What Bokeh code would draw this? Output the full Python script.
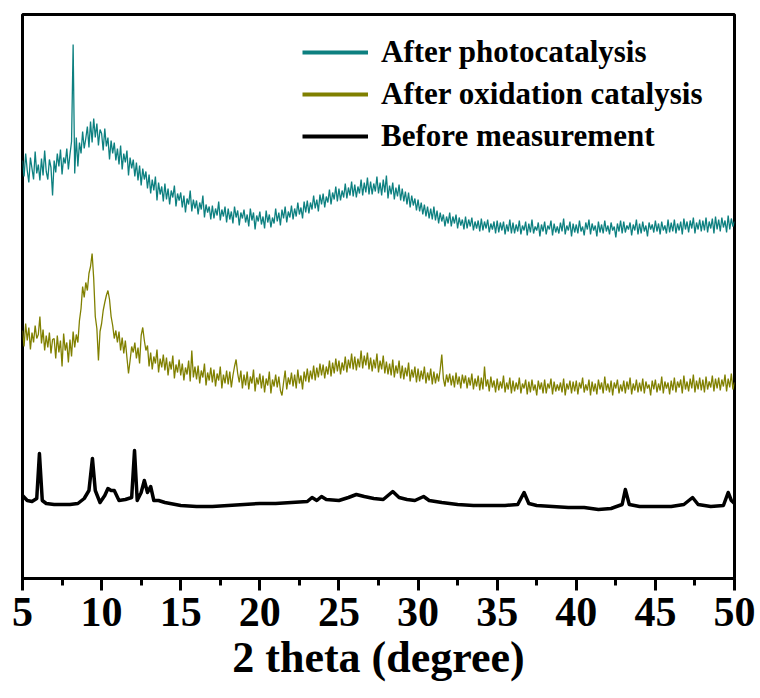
from bokeh.plotting import figure
from bokeh.models import SingleIntervalTicker, Legend, LegendItem, Range1d
from bokeh.embed import file_html
from bokeh.resources import INLINE
import numpy as np

# scan grid of the two noisy patterns (2 theta, degree)
scan_start = 5.0
scan_step = 0.1

# After photocatalysis (offset intensity, a.u.)
photo = [
    418, 402, 425, 408, 396, 421, 410, 399, 427, 405,
    414, 398, 420, 403, 428, 407, 399, 419, 411, 383,
    418, 406, 425, 412, 429, 404, 421, 415, 430, 409,
    424, 437, 534, 405, 441, 412, 436, 425, 447, 430,
    440, 452, 431, 457, 436, 460, 441, 455, 433, 449,
    445, 428, 450, 432, 441, 419, 438, 425, 436, 418,
    430, 414, 433, 409, 425, 416, 428, 403, 421, 410,
    419, 402, 416, 398, 413, 393, 410, 399, 407, 390,
    404, 385, 399, 388, 402, 378, 396, 384, 392, 377,
    395, 379, 390, 374, 388, 381, 393, 372, 385, 378,
    386, 371, 383, 366, 380, 374, 388, 367, 379, 370,
    378, 364, 376, 369, 383, 361, 374, 366, 372, 359,
    373, 360, 370, 363, 377, 358, 369, 362, 372, 356,
    370, 359, 367, 355, 372, 361, 368, 353, 366, 360,
    369, 356, 364, 352, 370, 358, 366, 349, 363, 357,
    367, 354, 362, 350, 368, 356, 364, 351, 361, 355,
    370, 357, 366, 353, 369, 360, 372, 356, 367, 361,
    373, 359, 370, 362, 376, 364, 371, 360, 377, 366,
    378, 365, 376, 369, 383, 370, 379, 367, 384, 374,
    385, 371, 382, 376, 389, 374, 386, 379, 392, 377,
    390, 378, 388, 381, 395, 380, 391, 383, 397, 382,
    394, 381, 392, 385, 399, 383, 396, 386, 401, 384,
    397, 384, 395, 387, 402, 385, 396, 383, 399, 386,
    403, 380, 393, 384, 396, 379, 391, 382, 394, 378,
    390, 377, 387, 374, 386, 371, 383, 373, 380, 368,
    379, 367, 376, 364, 374, 362, 372, 360, 370, 359,
    372, 358, 368, 355, 366, 357, 364, 352, 362, 355,
    366, 352, 362, 355, 364, 350, 361, 353, 359, 349,
    362, 350, 359, 352, 361, 348, 357, 350, 358, 347,
    360, 348, 357, 350, 359, 346, 355, 349, 357, 345,
    358, 346, 356, 348, 357, 344, 354, 347, 359, 345,
    356, 345, 354, 347, 358, 344, 353, 348, 357, 343,
    355, 346, 359, 345, 352, 348, 356, 342, 354, 347,
    357, 344, 353, 349, 358, 343, 355, 346, 352, 345,
    356, 347, 360, 344, 353, 348, 357, 342, 355, 346,
    354, 345, 358, 347, 352, 343, 356, 349, 359, 344,
    355, 348, 353, 342, 357, 346, 354, 345, 358, 347,
    353, 344, 356, 348, 352, 341, 355, 347, 358, 345,
    357, 346, 353, 349, 356, 343, 354, 348, 359, 344,
    355, 345, 357, 347, 353, 342, 356, 349, 354, 346,
    358, 347, 355, 344, 357, 348, 353, 345, 359, 346,
    356, 347, 359, 345, 355, 348, 357, 344, 360, 349,
    357, 346, 358, 350, 361, 345, 356, 349, 359, 347,
    358, 348, 361, 346, 357, 350, 360, 345, 362, 349,
    359, 347, 361, 351, 358, 346, 363, 349, 360, 352,
    357,
]

# After oxidation catalysis (offset intensity, a.u.)
oxid = [
    248, 232, 255, 238, 251, 229, 246, 236, 253, 240,
    244, 262, 235, 249, 228, 243, 231, 246, 225, 239,
    240, 220, 243, 226, 238, 212, 245, 228, 236, 216,
    239, 222, 247, 231, 244, 236, 258, 270, 292, 281,
    296, 288, 305, 312, 325, 300, 262, 250, 218, 247,
    255, 268, 276, 283, 288, 279, 262, 253, 240, 248,
    236, 247, 228, 241, 225, 238, 221, 205, 218, 232,
    226, 236, 220, 231, 215, 243, 251, 238, 228, 233,
    212, 226, 209, 222, 215, 229, 206, 220, 211, 224,
    208, 221, 203, 217, 209, 223, 200, 214, 206, 219,
    203, 215, 198, 211, 204, 218, 197, 228, 201, 212,
    199, 213, 195, 208, 201, 215, 193, 206, 198, 211,
    196, 209, 192, 205, 198, 212, 190, 204, 195, 208,
    194, 207, 191, 203, 212, 219, 205, 196, 208, 190,
    204, 193, 207, 189, 202, 195, 209, 187, 201, 194,
    205, 190, 203, 186, 200, 193, 207, 185, 199, 192,
    204, 191, 202, 188, 183, 196, 208, 189, 201, 194,
    206, 192, 204, 190, 209, 195, 203, 189, 207, 197,
    210, 196, 208, 199, 213, 198, 211, 201, 215, 203,
    214, 200, 212, 204, 218, 202, 216, 205, 220, 207,
    218, 204, 216, 208, 222, 206, 219, 210, 225, 209,
    222, 208, 220, 211, 228, 210, 223, 213, 226, 209,
    221, 207, 219, 210, 225, 206, 218, 209, 223, 205,
    217, 204, 215, 203, 219, 201, 213, 205, 218, 200,
    213, 199, 211, 202, 216, 197, 209, 201, 212, 196,
    210, 197, 208, 199, 212, 195, 206, 198, 210, 194,
    207, 195, 205, 197, 209, 224, 200, 192, 204, 196,
    205, 193, 203, 191, 206, 194, 202, 190, 204, 195,
    203, 190, 201, 193, 205, 189, 200, 192, 203, 188,
    201, 189, 212, 192, 199, 187, 202, 191, 198, 186,
    200, 188, 197, 190, 203, 186, 196, 189, 201, 185,
    198, 187, 196, 189, 201, 185, 195, 190, 199, 184,
    197, 186, 199, 188, 194, 183, 198, 189, 196, 185,
    199, 185, 195, 190, 200, 184, 197, 187, 194, 188,
    196, 186, 200, 183, 195, 189, 198, 185, 197, 187,
    198, 184, 196, 190, 201, 186, 194, 188, 199, 183,
    197, 187, 195, 184, 199, 189, 196, 185, 202, 188,
    195, 186, 198, 183, 196, 190, 199, 185, 194, 187,
    198, 185, 197, 189, 201, 184, 195, 188, 199, 186,
    196, 187, 200, 185, 197, 190, 194, 183, 198, 189,
    199, 186, 195, 188, 202, 185, 197, 190, 196, 184,
    198, 188, 201, 186, 197, 191, 199, 185, 203, 189,
    197, 187, 200, 190, 204, 186, 198, 189, 201, 188,
    199, 186, 202, 189, 197, 191, 203, 187, 200, 190,
    201, 188, 199, 192, 204, 187, 200, 191, 205, 189,
    196,
]

# Before measurement (offset intensity, a.u.)
before_x = [
    5.0, 5.3, 5.6, 5.9, 6.07, 6.25, 6.5, 7.0, 7.5, 8.0, 8.5, 8.9, 9.2, 9.42, 9.6,
    9.9, 10.2, 10.4, 10.6, 10.8, 11.1, 11.5, 11.9, 12.08, 12.25, 12.5, 12.7, 12.9,
    13.1, 13.3, 13.6, 14.0, 15.0, 16.0, 17.0, 18.0, 19.0, 20.0, 21.0, 22.0, 23.0,
    23.3, 23.6, 23.9, 24.2, 25.0, 25.6, 26.1, 26.6, 27.2, 27.8, 28.4, 28.8, 29.3,
    29.8, 30.35, 30.7, 31.5, 32.5, 33.5, 34.5, 35.5, 36.3, 36.7, 37.0, 37.5, 38.5,
    39.5, 40.5, 41.4, 42.2, 42.9, 43.1, 43.35, 44.0, 45.0, 46.0, 46.8, 47.35, 47.7,
    48.5, 49.3, 49.6, 49.8, 50.0,
]
before_y = [
    83, 78, 77, 80, 125, 78, 75, 74, 74, 74, 75, 80, 88, 120, 88,
    76, 83, 90, 88, 88, 78, 79, 81, 128, 78, 86, 98, 86,
    92, 78, 78, 76, 73, 72, 72, 73, 74, 75, 75, 76, 77,
    81, 78, 82, 79, 78, 81, 84, 82, 80, 79, 87, 81, 79,
    78, 82, 78, 76, 74, 73, 73, 73, 74, 86, 75, 73, 72,
    71, 71, 69, 70, 74, 89, 74, 72, 72, 72, 74, 81, 74,
    72, 73, 86, 78, 75,
]

x_ticks = [5, 10, 15, 20, 25, 30, 35, 40, 45, 50]
x_title = "2 theta (degree)"
series_names = ["After photocatalysis", "After oxidation catalysis", "Before measurement"]
series_colors = ["#0d8080", "#808000", "#000000"]

scan_x = [round(scan_start + scan_step * i, 1) for i in range(len(photo))]

FONT = "Liberation Serif"

p = figure(width=760, height=698, output_backend="svg", toolbar_location=None,
           x_range=Range1d(x_ticks[0], x_ticks[-1]), y_range=Range1d(0, 564),
           y_axis_location=None,
           min_border_left=22, min_border_right=26, min_border_top=14,
           min_border_bottom=120)

p.xgrid.visible = False
p.ygrid.visible = False
p.outline_line_color = "black"
p.outline_line_width = 3
p.background_fill_color = "white"
p.border_fill_color = "white"

p.line(scan_x, photo, line_color=series_colors[0], line_width=1.3)
p.line(scan_x, oxid, line_color=series_colors[1], line_width=1.3)
p.line(before_x, before_y, line_color=series_colors[2], line_width=3.5, line_join="round")

# legend entries with thicker keys (one invisible NaN point each)
items = []
for name, col in zip(series_names, series_colors):
    r = p.line([scan_start], [float("nan")], line_color=col, line_width=4)
    items.append(LegendItem(label=name, renderers=[r]))

leg = Legend(items=items, location=(280, 424))
leg.background_fill_alpha = 0
leg.border_line_color = None
leg.margin = 0
leg.padding = 0
leg.spacing = 6
leg.glyph_width = 66
leg.label_standoff = 13
leg.label_text_font = FONT
leg.label_text_font_style = "bold"
leg.label_text_font_size = "31px"
leg.label_text_color = "black"
p.add_layout(leg, "center")

ax = p.xaxis[0]
ax.ticker = SingleIntervalTicker(interval=5, num_minor_ticks=2)
ax.axis_line_width = 3
ax.axis_line_color = "black"
ax.major_tick_line_width = 3
ax.minor_tick_line_width = 3
ax.major_tick_in = 0
ax.major_tick_out = 12
ax.minor_tick_in = 0
ax.minor_tick_out = 7
ax.major_label_standoff = 7
ax.major_label_text_font = FONT
ax.major_label_text_font_style = "bold"
ax.major_label_text_font_size = "42px"
ax.major_label_text_color = "black"
ax.axis_label = x_title
ax.axis_label_standoff = 4
ax.axis_label_text_font = FONT
ax.axis_label_text_font_style = "bold"
ax.axis_label_text_font_size = "44px"
ax.axis_label_text_color = "black"

open("out.html", "w").write(file_html(p, INLINE))
